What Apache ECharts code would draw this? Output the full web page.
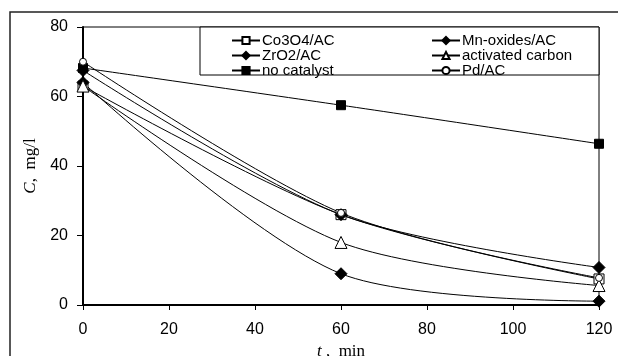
<!DOCTYPE html>
<html>
<head>
<meta charset="utf-8">
<script src="https://cdn.jsdelivr.net/npm/echarts@6/dist/echarts.min.js"></script>
<style>
    html, body { margin: 0; padding: 0; background: #fff; }
    #chart { width: 618px; height: 356px; }
</style>
</head>
<body>
<div id="chart"></div>
<script>
// 时间 (min)
const times = [0, 60, 120];
// 浓度 C, mg/l
const co3o4 = [63, 26, 7.5];
const mnOxides = [64, 9, 1.1];
const zro2 = [67.5, 26, 10.8];
const activatedCarbon = [63, 18, 5.6];
const noCatalyst = [68.2, 57.5, 46.4];
const pdAC = [70, 26.5, 7.8];
const xTicks = [0, 20, 40, 60, 80, 100, 120];
const yTicks = [0, 20, 40, 60, 80];

const pair = (vals) => times.map((t, i) => [t, vals[i]]);

const seriesDefs = [
    { name: 'Co3O4/AC', data: co3o4, symbol: 'rect', size: 10, fill: '#fff' },
    { name: 'Mn-oxides/AC', data: mnOxides, symbol: 'diamond', size: 12, fill: '#000' },
    { name: 'ZrO2/AC', data: zro2, symbol: 'diamond', size: 12, fill: '#000' },
    { name: 'activated carbon', data: activatedCarbon, symbol: 'triangle', size: 12, fill: '#fff' },
    { name: 'no catalyst', data: noCatalyst, symbol: 'rect', size: 9, fill: '#000' },
    { name: 'Pd/AC', data: pdAC, symbol: 'circle', size: 7, fill: '#fff' },
];

const chart = echarts.init(document.getElementById('chart'));
const axisFont = { fontFamily: 'Liberation Sans', fontSize: 16, color: '#000' };
const nameFont = {
    fontFamily: 'Liberation Serif',
    fontSize: 17,
    color: '#000',
    rich: { i: { fontFamily: 'Liberation Serif', fontStyle: 'italic', fontSize: 17 } },
};
const legendCommon = {
    orient: 'vertical',
    top: 33,
    itemWidth: 28,
    itemHeight: 9,
    itemGap: 0,
    padding: 0,
    textStyle: { fontFamily: 'Liberation Sans', fontSize: 15, color: '#000', lineHeight: 13.5, padding: [0, 0, 0, -3] },
};

chart.setOption({
    animation: false,
    backgroundColor: '#fff',
    graphic: [
        {
            type: 'rect',
            shape: { x: 10, y: 12, width: 700, height: 400 },
            style: { fill: 'none', stroke: '#222', lineWidth: 1.5 },
            z: -1,
        },
        {
            type: 'rect',
            shape: { x: 200, y: 27, width: 399, height: 48 },
            style: { fill: '#fff', stroke: '#000', lineWidth: 1 },
            z: 5,
        },
    ],
    legend: [
        Object.assign({}, legendCommon, { left: 231, data: ['Co3O4/AC', 'ZrO2/AC', 'no catalyst'], z: 10 }),
        Object.assign({}, legendCommon, { left: 431, data: ['Mn-oxides/AC', 'activated carbon', 'Pd/AC'], z: 10 }),
    ],
    grid: {
        left: 83,
        right: 19,
        top: 27,
        bottom: 51,
        outerBoundsMode: 'none',
        containLabel: false,
        show: true,
        borderColor: '#000',
        borderWidth: 1,
    },
    xAxis: {
        type: 'value',
        min: 0,
        max: 120,
        interval: 20,
        name: '{i|t} ,  min',
        nameLocation: 'middle',
        nameGap: 36,
        nameTextStyle: nameFont,
        axisLine: { lineStyle: { color: '#000', width: 2 } },
        axisTick: { show: true, inside: false, length: 5, lineStyle: { color: '#000', width: 1 } },
        axisLabel: Object.assign({ margin: 17, formatter: (v) => xTicks.includes(v) ? String(v) : '' }, axisFont),
        splitLine: { show: false },
    },
    yAxis: {
        type: 'value',
        min: 0,
        max: 80,
        interval: 20,
        name: '{i|C},  mg/l',
        nameLocation: 'middle',
        nameRotate: 90,
        nameGap: 44,
        nameTextStyle: nameFont,
        axisLine: { show: true, lineStyle: { color: '#000', width: 2 } },
        axisTick: { show: true, inside: false, length: 6, lineStyle: { color: '#000', width: 1 } },
        axisLabel: Object.assign({ margin: 15, formatter: (v) => yTicks.includes(v) ? String(v) : '' }, axisFont),
        splitLine: { show: false },
    },
    series: seriesDefs.map((s) => ({
        name: s.name,
        type: 'line',
        data: pair(s.data),
        smooth: 0.3,
        symbol: s.symbol,
        symbolSize: s.size,
        showAllSymbol: true,
        lineStyle: { color: '#000', width: 1 },
        itemStyle: { color: s.fill, borderColor: '#000', borderWidth: 1 },
        z: 3,
    })),
});
</script>
</body>
</html>
